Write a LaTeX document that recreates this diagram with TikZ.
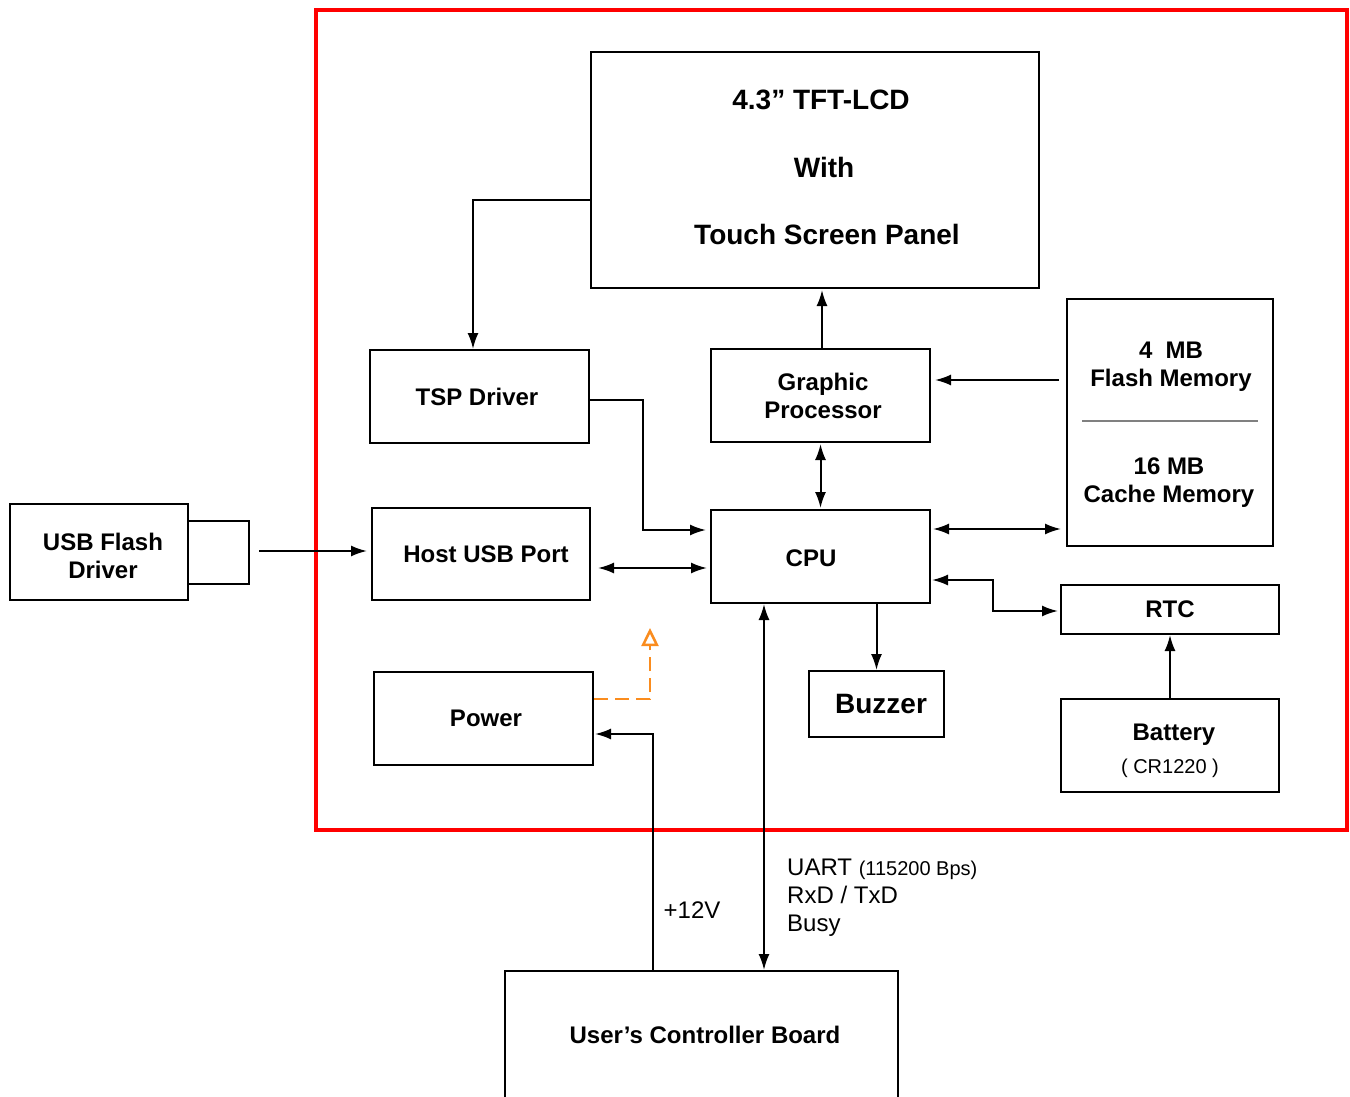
\documentclass[tikz,border=0pt]{standalone}
\usepackage{fontspec}
\setmainfont{Liberation Sans}
\usetikzlibrary{arrows.meta}
\definecolor{dashorange}{RGB}{250,140,30}
\begin{document}
\begin{tikzpicture}[x=1pt,y=-1pt,
  box/.style={draw, line width=2pt, inner sep=0pt, align=center, font=\bfseries\fontsize{24}{28}\selectfont},
  lbl/.style={inner sep=0pt, font=\bfseries\fontsize{24}{28}\selectfont},
  biglbl/.style={inner sep=0pt, font=\bfseries\fontsize{28}{32}\selectfont},
  plain/.style={inner sep=0pt, font=\fontsize{24}{28}\selectfont},
  small/.style={inner sep=0pt, font=\fontsize{20}{24}\selectfont},
  arr/.style={line width=2pt, -{Latex[length=16pt,width=11pt]}},
  darr/.style={line width=2pt, {Latex[length=16pt,width=11pt]}-{Latex[length=16pt,width=11pt]}},
  oarr/.style={line width=2.5pt, dashorange, dash pattern=on 14pt off 7pt, -{Triangle[open,length=18pt,width=17pt]}}
]
\useasboundingbox (0,0) rectangle (1350,1097);
\fill[white] (0,0) rectangle (1350,1097);

% red frame
\draw[red, line width=4pt] (316,10) rectangle (1347,830);

% boxes
\node[box, minimum width=448pt, minimum height=236pt] (lcd) at (815,170) {};
\node[biglbl] (lcd1) at (821,100) {4.3” TFT-LCD};
\node[biglbl] (lcd2) at (824,167) {With};
\node[biglbl] (lcd3) at (827,234) {Touch Screen Panel};

\node[box, minimum width=219pt, minimum height=93pt] (tsp) at (479.5,396.5) {};
\node[lbl] (tspt) at (477,397) {TSP Driver};
\node[box, minimum width=219pt, minimum height=93pt] (gp) at (820.5,395.5) {};
\node[lbl, align=center] (gpt) at (823,396) {Graphic\\Processor};

\node[box, minimum width=206pt, minimum height=247pt] (mem) at (1170,422.5) {};
\node[lbl, align=center] (flash) at (1171,367) {4\ \ MB\\Flash Memory};
\node[lbl, align=center] (cache) at (1169,483) {16 MB\\Cache Memory};
\draw[gray, line width=1.2pt] (1082,421) coordinate (sepa) -- (1258,421) coordinate (sepb);

\node[box, minimum width=178pt, minimum height=96pt] (usb) at (99,552) {};
\node[lbl, align=center] (usbt) at (103,556) {USB Flash\\Driver};
\node[box, minimum width=61pt, minimum height=63pt] (plug) at (218.5,552.5) {};

\node[box, minimum width=218pt, minimum height=92pt] (host) at (481,554) {};
\node[lbl] (hostt) at (486,554) {Host USB Port};

\node[box, minimum width=219pt, minimum height=93pt] (cpu) at (820.5,556.5) {};
\node[lbl] (cput) at (811,558) {CPU};

\node[box, minimum width=218pt, minimum height=49pt] (rtc) at (1170,609.5) {RTC};

\node[box, minimum width=219pt, minimum height=93pt] (power) at (483.5,718.5) {};
\node[lbl] (powert) at (486,718) {Power};

\node[box, minimum width=135pt, minimum height=66pt] (buzz) at (876.5,704) {};
\node[biglbl] (buzzt) at (881,704) {Buzzer};

\node[box, minimum width=218pt, minimum height=93pt] (bat) at (1170,745.5) {};
\node[lbl] (batt) at (1174,735) {Battery};
\node[small] (batc) at (1170,768) {( CR1220 )};

\node[box, minimum width=393pt, minimum height=132pt] (board) at (701.5,1037) {};
\node[lbl] (boardt) at (705,1035) {User’s Controller Board};

% labels
\node[plain] (v12) at (692,910) {+12V};
\node[plain, anchor=base west] (uart) at (787,875) {UART {\fontsize{20}{24}\selectfont(115200 Bps)}};
\node[plain, anchor=base west] (rxd) at (787,903) {RxD / TxD};
\node[plain, anchor=base west] (busy) at (787,931) {Busy};

% connectors
\draw[arr] (lcd.west |- 0,200) -| ([xshift=-6.5pt]tsp.north);
\draw[arr, shorten >=1pt] ([xshift=1.5pt]gp.north) -- ([xshift=1.5pt]gp.north |- lcd.south);
\draw[arr, shorten <=7pt, shorten >=4pt] (mem.west |- 0,380) -- (gp.east |- 0,380);
\draw[darr, shorten <=1pt, shorten >=1pt] (gp.south) -- (cpu.north);
\draw[arr, shorten >=4pt] (tsp.east |- 0,400) -- (643,400) |- (cpu.west |- 0,530);
\draw[arr, shorten <=9pt, shorten >=4pt] (plug.east |- 0,551) -- (host.west |- 0,551);
\draw[darr, shorten <=7pt, shorten >=3pt] (host.east |- 0,568) -- (cpu.west |- 0,568);
\draw[darr, shorten <=2pt, shorten >=5pt] (cpu.east |- 0,529) -- (mem.west |- 0,529);
\draw[darr, shorten <=1pt, shorten >=2pt] (cpu.east |- 0,580) -- (993,580) |- (rtc.west |- 0,611);
\draw[arr] (buzz.north |- cpu.south) -- (buzz.north);
\draw[arr] (bat.north) -- (rtc.south);
\coordinate (otip) at (650,628);
\draw[oarr] (power.east |- 0,699) -| (otip);
\draw[arr, shorten >=1pt] (board.north -| 653,0) |- (power.east |- 0,734);
\draw[darr] (cpu.south -| 764,0) -- (board.north -| 764,0);
\end{tikzpicture}
\end{document}
